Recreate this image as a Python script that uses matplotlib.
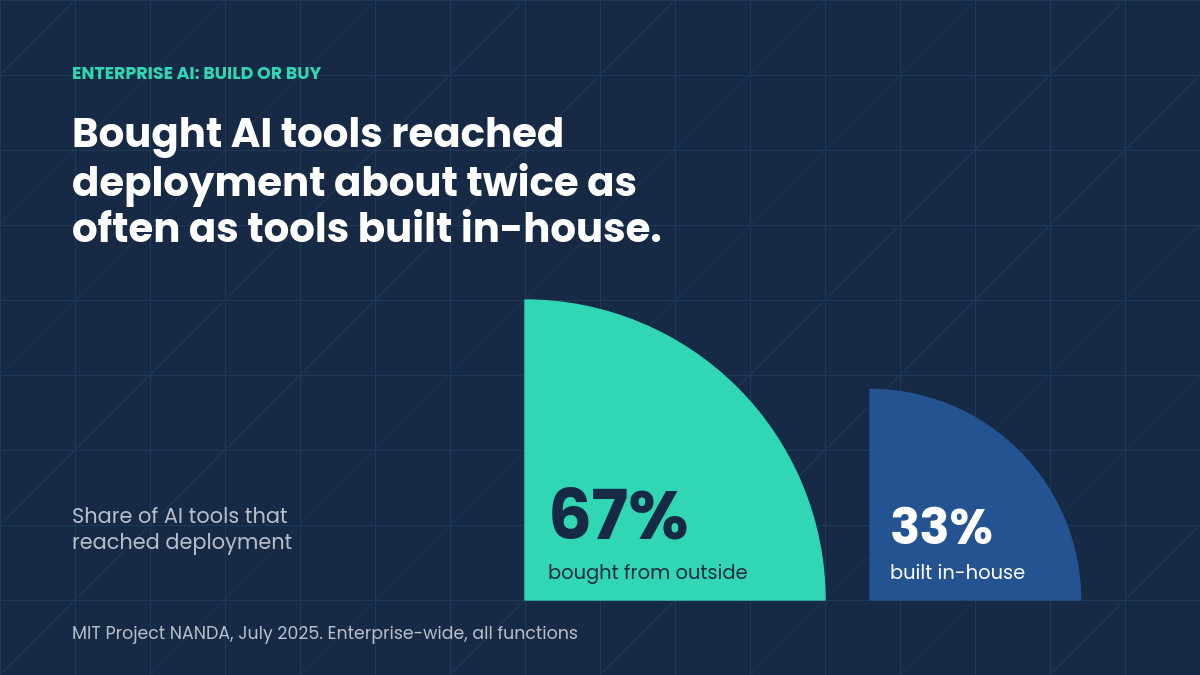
import matplotlib
matplotlib.use("Agg")
import matplotlib.pyplot as plt
from matplotlib.patches import Wedge
import numpy as np

categories = ["bought from outside", "built in-house"]
values = [67, 33]
labels = ["67%", "33%"]
colors = ["#31d6b5", "#245391"]

BG = "#172a45"
fig = plt.figure(figsize=(12, 6.75), dpi=100)
fig.patch.set_facecolor(BG)
ax = fig.add_axes([0, 0, 1, 1])
ax.set_xlim(0, 1200); ax.set_ylim(675, 0); ax.axis("off")
ax.set_facecolor(BG)

gc = "#1f3a55"
for x in range(0, 1201, 75):
    ax.plot([x, x], [0, 675], color=gc, lw=0.8, zorder=0)
for y in range(0, 676, 75):
    ax.plot([0, 1200], [y, y], color=gc, lw=0.8, zorder=0)
for k in range(-1200, 2400, 150):
    ax.plot([k, k + 675], [675, 0], color=gc, lw=0.6, zorder=0)

fam = ["Poppins", "Inter", "DejaVu Sans"]
ax.text(72, 75, "ENTERPRISE AI: BUILD OR BUY", color="#31d6b5", fontsize=12.5,
        fontweight="bold", family=fam, va="center")
ax.text(72, 185, "Bought AI tools reached\ndeployment about twice as\noften as tools built in-house.",
        color="white", fontsize=29, fontweight="bold", family=fam, va="center", linespacing=1.15)
ax.text(72, 531, "Share of AI tools that\nreached deployment", color="#b7bfcc", fontsize=15,
        family=fam, va="center", linespacing=1.3)
ax.text(72, 635, "MIT Project NANDA, July 2025. Enterprise-wide, all functions", color="#b7bfcc",
        fontsize=12.5, family=fam, va="center")

base_y = 600
R0 = 300
lefts = [525, 870]
for i, (v, c, lab, cat) in enumerate(zip(values, colors, labels, categories)):
    r = R0 * np.sqrt(v / values[0])
    x0 = lefts[i]
    ax.add_patch(Wedge((x0, base_y), r, 270, 360, color=c, zorder=2))
    tc = BG if i == 0 else "white"
    ax.text(x0 + 23 if i == 0 else x0 + 20, 522 if i == 0 else 532, lab, color=tc,
            fontsize=50 if i == 0 else 36, fontweight="bold", family=fam, va="center", zorder=3)
    ax.text(x0 + 23 if i == 0 else x0 + 20, 574, cat, color=tc, fontsize=14,
            family=fam, va="center", zorder=3)

fig.savefig("out.png", dpi=100, facecolor=BG)
